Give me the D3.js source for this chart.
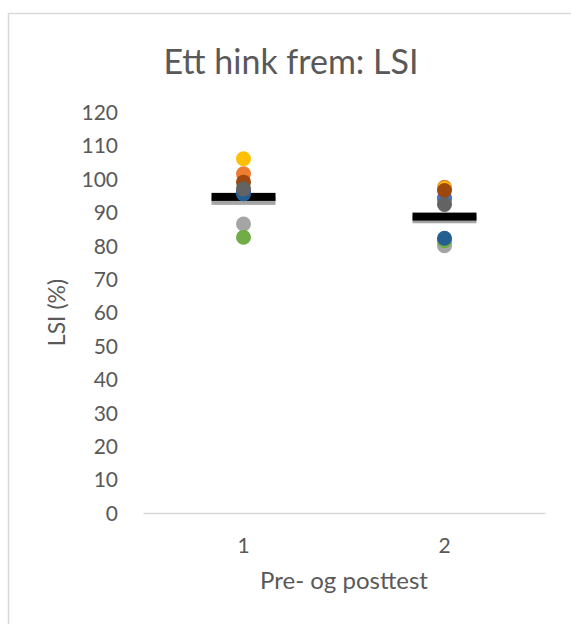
<!DOCTYPE html>
<html>
<head>
<meta charset="utf-8">
<script src="https://cdn.jsdelivr.net/npm/d3@7"></script>
<style>
  body { margin: 0; background: #fff; }
  svg { display: block; }
  text { font-family: Lato, "Noto Sans", sans-serif; fill: #595959; }
</style>
</head>
<body>
<svg id="chart" width="571" height="624"></svg>
<script>
// categories on the x axis
const groups = ['1', '2'];
// y ticks
const yTicks = [0, 10, 20, 30, 40, 50, 60, 70, 80, 90, 100, 110, 120];

// one pair of values (pre, post) per participant, Office palette order
const seriesNames = ['s1', 's2', 's3', 's4', 's5', 's6', 's7', 's8', 's9'];
const seriesColors = ['#5B9BD5', '#ED7D31', '#A5A5A5', '#FFC000', '#4472C4', '#70AD47', '#255E91', '#9E480E', '#636363'];
const preValues = [96, 101.5, 86.5, 106, 96.5, 82.5, 95.5, 99, 97];
const postValues = [94.5, 97.5, 80, 97, 94, 81.5, 82.2, 96.5, 92.3];

// mean markers
const meanValues = [94.6, 88.7];
const mean2Values = [93.4, 87.9];

const svg = d3.select('#chart');
const margin = {left: 143, right: 26, top: 112, bottom: 111};
const width = 571, height = 624;

const x = d3.scaleBand().domain(groups).range([margin.left, width - margin.right]);
const y = d3.scaleLinear().domain([0, 120]).range([height - margin.bottom, margin.top]);

// chart border
svg.append('rect')
    .attr('x', 8.5).attr('y', 13.5)
    .attr('width', 600).attr('height', 650)
    .attr('fill', 'none')
    .attr('stroke', '#D9D9D9')
    .attr('stroke-width', 1.5);

// title
svg.append('text')
    .attr('x', 291).attr('y', 74)
    .attr('text-anchor', 'middle')
    .style('font-size', '34px')
    .text('Ett hink frem: LSI');

// y axis labels
const yAxis = d3.axisLeft(y).tickValues(yTicks).tickSize(0).tickPadding(0);
const gy = svg.append('g')
    .attr('transform', 'translate(118,0)')
    .call(yAxis);
gy.select('.domain').remove();
gy.selectAll('text')
    .style('font-size', '21px')
    .style('fill', '#595959')
    .attr('dy', '0.35em');

// x axis
const xAxis = d3.axisBottom(x).tickSize(0).tickPadding(0);
const gx = svg.append('g')
    .attr('transform', 'translate(0,' + y(0) + ')')
    .call(xAxis);
gx.select('.domain')
    .attr('stroke', '#D9D9D9')
    .attr('stroke-width', 1.5);
gx.selectAll('text')
    .style('font-size', '21px')
    .style('fill', '#595959')
    .attr('dy', '0')
    .attr('y', 40);

// axis titles
svg.append('text')
    .attr('transform', 'translate(65,' + ((y(0) + y(120)) / 2) + ') rotate(-90)')
    .attr('text-anchor', 'middle')
    .style('font-size', '23px')
    .text('LSI (%)');

svg.append('text')
    .attr('x', (margin.left + width - margin.right) / 2)
    .attr('y', 589)
    .attr('text-anchor', 'middle')
    .style('font-size', '24px')
    .text('Pre- og posttest');

// mean markers (gray behind, black on top)
const cx = d => x(d) + x.bandwidth() / 2;
svg.append('g').selectAll('rect')
    .data(groups)
    .enter().append('rect')
    .attr('x', d => cx(d) - 32)
    .attr('y', (d, i) => y(mean2Values[i]) - 4)
    .attr('width', 64).attr('height', 8)
    .attr('fill', '#A5A5A5');

svg.append('g').selectAll('rect')
    .data(groups)
    .enter().append('rect')
    .attr('x', d => cx(d) - 32)
    .attr('y', (d, i) => y(meanValues[i]) - 4)
    .attr('width', 64).attr('height', 8)
    .attr('fill', '#000');

// points, drawn in series order so later ones sit on top
seriesNames.forEach(function (name, k) {
  const vals = [preValues[k], postValues[k]];
  svg.append('g').attr('class', 'series ' + name)
    .selectAll('circle')
    .data(groups)
    .enter().append('circle')
    .attr('cx', d => cx(d))
    .attr('cy', (d, i) => y(vals[i]))
    .attr('r', 7.5)
    .attr('fill', seriesColors[k]);
});
</script>
</body>
</html>
